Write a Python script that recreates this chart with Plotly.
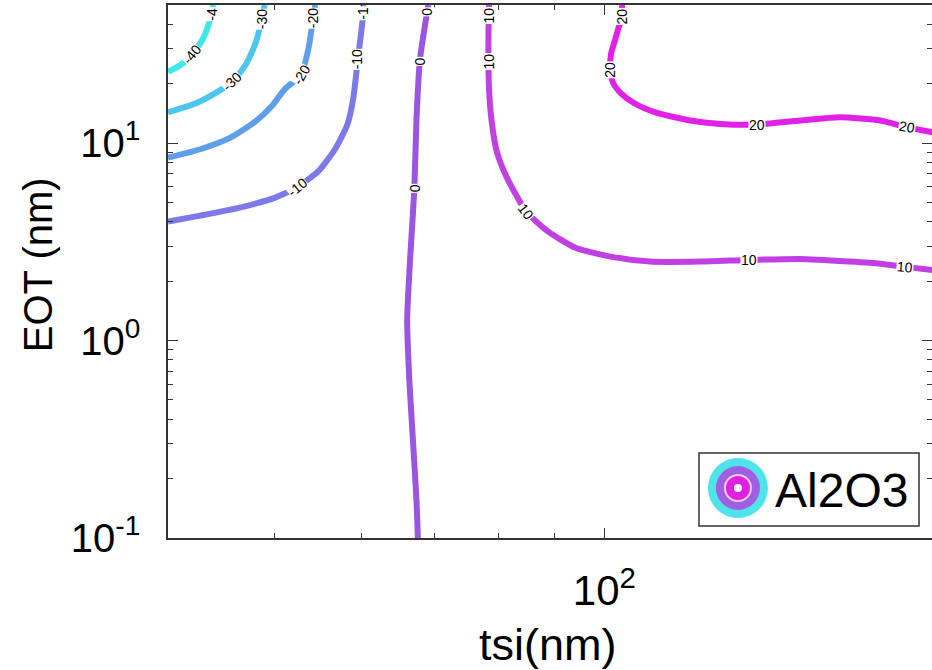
import numpy as np
import plotly.graph_objects as go

# contour levels and the "cool" colours they get
levels = [-40, -30, -20, -10, 0, 10, 20]
level_colors = ["#3fe6ec", "#4cc6ee", "#5f9ee8", "#7d7ae8", "#9a56e0", "#c040e2", "#e022e6"]

# contour paths: tsi (nm) / EOT (nm)
tsi_m40 = [40, 41.0, 42.1, 43.1, 43.7, 44.0]
eot_m40 = [23.0, 24.7, 28.1, 34.2, 42.2, 50]

tsi_m30 = [40, 42.3, 44.1, 45.8, 47.1, 48.1, 48.7, 49.0]
eot_m30 = [14.3, 15.8, 17.8, 20.5, 25.0, 32.3, 42.2, 50]

tsi_m20 = [40, 42.8, 45.6, 48.0, 49.8, 51.1, 52.9, 53.7, 54.2, 54.5]
eot_m20 = [8.43, 9.30, 10.65, 12.8, 15.5, 18.7, 22.2, 29.7, 41.2, 50]

tsi_m10 = [40, 42.8, 46.5, 50.1, 52.5, 54.8, 56.8, 58.3, 59.0, 59.6, 60.2, 60.3]
eot_m10 = [4.00, 4.29, 4.71, 5.29, 6.01, 7.16, 9.30, 12.4, 16.6, 26.5, 42.2, 50]

tsi_0 = [69.1, 67.9, 67.4, 67.1, 66.5, 66.1, 66.4, 66.9, 67.4, 67.6]
eot_0 = [50, 26.5, 13.1, 5.81, 2.56, 1.27, 0.632, 0.314, 0.156, 0.1]

tsi_10 = [78.5, 78.4, 78.5, 79.0, 79.8, 81.5, 84.9, 88.9, 94.1, 101.3, 110.1,
          122.3, 135.6, 150.9, 167.7, 178.5, 188.1, 200]
eot_10 = [50, 33.4, 18.7, 12.4, 9.04, 6.68, 4.49, 3.56, 2.95, 2.66, 2.51,
          2.51, 2.56, 2.59, 2.51, 2.45, 2.36, 2.27]

tsi_20 = [103.8, 103.8, 102.3, 101.4, 101.3, 101.8, 103.5, 106.5, 111.3, 119.8, 127.6,
          137.8, 150.9, 164.1, 178.5, 189.0, 200]
eot_20 = [50, 44.8, 33.4, 28.1, 23.6, 20.3, 17.9, 15.9, 14.3, 13.0, 12.5,
          12.4, 13.0, 13.5, 13.0, 12.0, 11.3]

paths = [(tsi_m40, eot_m40), (tsi_m30, eot_m30), (tsi_m20, eot_m20), (tsi_m10, eot_m10),
         (tsi_0, eot_0), (tsi_10, eot_10), (tsi_20, eot_20)]

# inline contour labels (text as it shows, some cut by the top edge)
label_text = ["-4", "-30", "-20", "-1", "0", "10", "20",
              "-40", "-30", "-20", "-10", "0", "10", "20",
              "-10", "0", "10",
              "20", "20", "10", "10"]
label_tsi = [43.9, 48.7, 54.2, 60.2, 68.8, 78.5, 103.8,
             42.1, 45.8, 52.9, 59.6, 67.9, 78.5, 101.3,
             52.5, 67.2, 84.9,
             137.8, 189.0, 135.6, 188.1]
label_eot = [44.8, 42.2, 42.7, 45.5, 46.3, 44.3, 43.8,
             28.1, 20.5, 22.2, 26.5, 25.9, 25.9, 23.6,
             6.01, 5.9, 4.49,
             12.4, 12.0, 2.56, 2.36]
label_angle = [-90, -90, -90, -90, -90, -90, -90,
               -51, -43, -60, -90, -90, -90, -90,
               -40, -90, 53,
               0, 10, 0, 5]

x_ticks = [100]
x_ticktext = ["10<sup>2</sup>"]
x_minor = [50, 60, 70, 80, 90]
y_ticks = [0.1, 1, 10]
y_ticktext = ["10<sup>-1</sup>", "10<sup>0</sup>", "10<sup>1</sup>"]
y_minor = [0.2, 0.3, 0.4, 0.5, 0.6, 0.7, 0.8, 0.9, 2, 3, 4, 5, 6, 7, 8, 9, 20, 30, 40]

FONT = "Liberation Sans, Arial, sans-serif"

fig = go.Figure()
for (xs, ys), lev, col in zip(paths, levels, level_colors):
    fig.add_trace(go.Scatter(x=xs, y=ys, mode="lines", name=str(lev),
                             line=dict(color=col, width=6, shape="spline", smoothing=0.6),
                             hoverinfo="skip"))

for t, xv, yv, ang in zip(label_text, label_tsi, label_eot, label_angle):
    fig.add_annotation(x=np.log10(xv), y=np.log10(yv), text=t, showarrow=False,
                       textangle=ang, bgcolor="white", borderpad=0,
                       font=dict(family=FONT, size=14, color="black"))

axis_common = dict(type="log", showgrid=False, zeroline=False, showline=True, automargin=False,
                   linecolor="#333333", linewidth=1.5, ticks="inside", ticklen=10,
                   tickcolor="#333333", mirror="ticks", tickmode="array")

fig.update_xaxes(range=[np.log10(40), np.log10(199)], tickvals=x_ticks, ticktext=x_ticktext,
                 tickfont=dict(family=FONT, size=42, color="black"), ticklabelstandoff=15,
                 minor=dict(ticks="inside", ticklen=5, tickcolor="#333333",
                            tickmode="array", tickvals=x_minor),
                 **axis_common)
fig.update_yaxes(range=[-1, np.log10(50)], tickvals=y_ticks, ticktext=y_ticktext,
                 tickfont=dict(family=FONT, size=40, color="black"), ticklabelstandoff=18,
                 minor=dict(ticks="inside", ticklen=5, tickcolor="#333333",
                            tickmode="array", tickvals=y_minor),
                 **axis_common)

# axis titles
fig.add_annotation(xref="paper", yref="paper", x=0.497, y=-0.199, text="tsi(nm)",
                   showarrow=False, xanchor="center", yanchor="middle",
                   font=dict(family=FONT, size=45, color="black"))
fig.add_annotation(xref="paper", yref="paper", x=-0.170, y=0.512, text="EOT (nm)",
                   showarrow=False, xanchor="center", yanchor="middle", textangle=-90,
                   font=dict(family=FONT, size=40, color="black"))

# legend box drawn by hand: concentric rings + label
fig.add_shape(type="rect", xref="paper", yref="paper", x0=0.695, x1=0.983, y0=0.0225, y1=0.1595,
              line=dict(color="#333333", width=1.5), fillcolor="white")
rings = [(30, "#4ee4ea"), (22, "#a05ee0"), (14, "#f0d0f0"), (12, "#e020e0"), (4, "white")]
for r, c in rings:
    fig.add_shape(type="circle", xref="paper", yref="paper", xsizemode="pixel", ysizemode="pixel",
                  xanchor=0.746, yanchor=0.0938, x0=-r, x1=r, y0=-r, y1=r,
                  fillcolor=c, line=dict(width=0))
fig.add_annotation(xref="paper", yref="paper", x=0.881, y=0.090, text="Al2O3", showarrow=False,
                   xanchor="center", yanchor="middle",
                   font=dict(family=FONT, size=48, color="black"))

fig.update_layout(width=932, height=670, margin=dict(l=168, r=0, t=5, b=132),
                  plot_bgcolor="white", paper_bgcolor="white", showlegend=False)

# drop the page's default body margin so the figure sits at the window's corner
fig.write_html("out.html", config={"displayModeBar": False},
               post_script="document.body.style.margin='0';")
